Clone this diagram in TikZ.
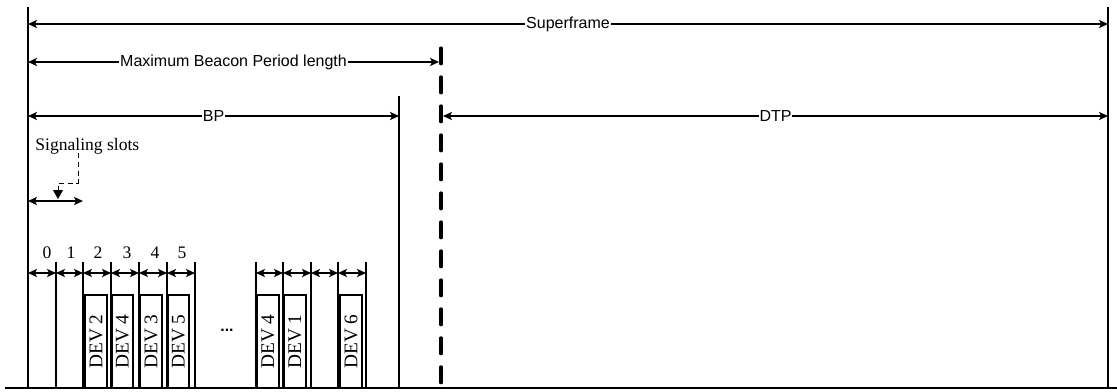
\documentclass[tikz,border=0pt]{standalone}
\usepackage{fontspec}
\setmainfont{Liberation Serif}
\newfontfamily\arialfont{Liberation Sans}
\usetikzlibrary{arrows.meta}
\tikzset{
    every picture/.append style={
        >={Stealth[length=5pt,width=4.5pt,inset=1pt]}
    }
}
\tikzset{
    span/.style={<->, line width=0.8pt},
    lbl/.style={font=\arialfont\fontsize{9.1}{10}\selectfont, fill=white, inner xsep=0.5pt, inner ysep=1pt},
    bound/.style={line width=1.1pt},
    tick/.style={line width=0.8pt},
    devbox/.style={draw, line width=1pt, rotate=90, minimum width=1.86cm, minimum height=0.43cm, inner sep=0pt, font=\fontsize{11}{12}\selectfont},
    num/.style={font=\fontsize{10}{11}\selectfont, inner sep=0pt},
}

\begin{document}
\begin{tikzpicture}[x=0.02cm, y=-0.02cm]
		\useasboundingbox (0,0) rectangle (1117,392);

		% frame
		\draw[bound] (28,7) -- (28,388);
		\draw[bound] (1108,7) -- (1108,388);
		\draw[bound] (5,388) -- (1117,388);
		\draw[tick] (399,96) -- (399,388);
		\draw[line width=1.8pt, line cap=round, dash pattern=on 9pt off 7.5pt] (441,48) -- (441,388);

		% spans
		\coordinate (sfL) at (28,24);
		\coordinate (sfR) at (1108,24);
		\coordinate (mbL) at (28,62);
		\coordinate (mbR) at (439,62);
		\coordinate (bpL) at (28,116);
		\coordinate (bpR) at (399,116);
		\coordinate (dtL) at (443,116);
		\coordinate (dtR) at (1108,116);
		\draw[span] (sfL) -- node[lbl] {Superframe} (sfR);
		\draw[span] (mbL) -- node[lbl] {Maximum Beacon Period length} (mbR);
		\draw[span] (bpL) -- node[lbl] {BP} (bpR);
		\draw[span] (dtL) -- node[lbl] {DTP} (dtR);

		% signaling slots
		\node[anchor=west, inner sep=0pt, font=\fontsize{10}{11}\selectfont] (sig) at (35,146) {Signaling slots};
		\coordinate (sigfrom) at (78,153);
		\coordinate (sigtip) at (58,199);
		\coordinate (ssL) at (28,201);
		\coordinate (ssR) at (83,201);
		\draw[span, line width=1.1pt] (ssL) -- (ssR);
		\draw[densely dashed, line width=0.5pt, -{Triangle[length=5pt,width=5.5pt]}] (sigfrom) -- ++(0,30) -| (sigtip);

		% slots
		\foreach \x in {56,83,111,139,167,195,256,283,311,338,366}
			\draw[tick] (\x,262) -- (\x,388);
		\foreach \x in {28,56,83,111,139,167,195,256,283,311,338,366}
			\coordinate (s\x) at (\x,273);
		\foreach \a/\b in {28/56,56/83,83/111,111/139,139/167,167/195,256/283,283/311,311/338,338/366}
			\draw[span] (s\a) -- (s\b);
		\foreach \x/\n in {47/0,71/1,98/2,127/3,155/4,182/5}
			\node[num] (n\n) at (\x,253) {\n};

		% beacons
		\foreach \x/\d/\i in {96/2/a,122.5/4/b,151/3/c,178.5/5/d,268/4/e,295/1/f,351/6/g}
			\node[devbox] (dev\i) at (\x,341.5) {DEV \d};
		\node[anchor=base, font=\arialfont\bfseries\fontsize{9}{10}\selectfont] (dots) at (227,331) {...};
\end{tikzpicture}
\end{document}
